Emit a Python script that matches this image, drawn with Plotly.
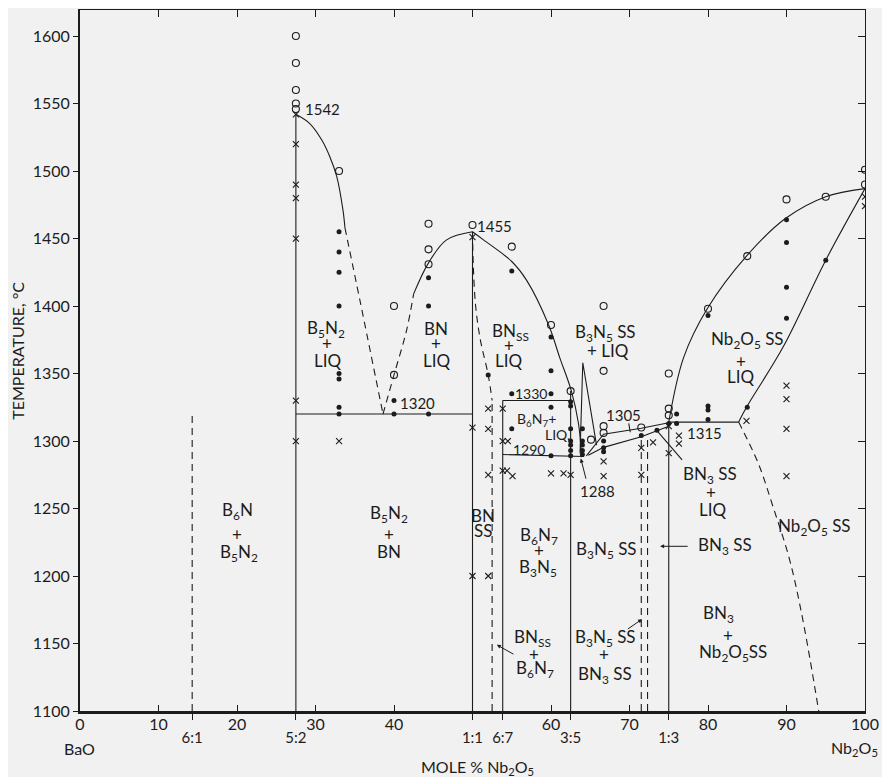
import plotly.graph_objects as go

# ---------------- data (mole % Nb2O5, temperature °C) ----------------
x_tick_vals = [0, 10, 20, 30, 40, 60, 70, 80, 90, 100]
x_tick_text = ["0", "10", "20", "30", "40", "60", "70", "80", "90", "100"]
x_minor_vals = [10, 20, 30, 40, 50, 60, 70, 80, 90]
ratio_pos = [14.29, 27.5, 50.0, 53.85, 62.5, 75.0]
ratio_labels = ["6:1", "5:2", "1:1", "6:7", "3:5", "1:3"]
y_tick_vals = [1100, 1150, 1200, 1250, 1300, 1350, 1400, 1450, 1500, 1550, 1600]

# open circles (completely melted)
liquid_x = [27.5, 27.5, 27.5, 27.5, 27.5, 33.0, 40.0, 40.0, 44.4, 44.4, 44.4, 50.0,
            55.0, 60.0, 62.5, 66.7, 66.7, 66.7, 66.7, 65.1, 71.5, 75.0, 75.0, 75.0,
            80.0, 85.0, 90.0, 95.0, 100.0, 100.0]
liquid_y = [1600, 1580, 1560, 1550, 1546, 1500, 1400, 1349, 1461, 1442, 1431, 1460,
            1444, 1386, 1337, 1400, 1352, 1311, 1306, 1301, 1310, 1350, 1324, 1319,
            1398, 1437, 1479, 1481, 1501, 1490]

# filled dots (partially melted)
partial_x = [33.0, 33.0, 33.0, 33.0, 33.0, 33.0, 33.0, 33.0, 40.0, 40.0, 44.4, 44.4, 44.4,
             52.0, 55.0, 55.0, 55.0, 60.0, 60.0, 60.0, 60.0, 60.0,
             62.5, 62.5, 62.5, 62.5, 62.5, 62.5, 62.5, 64.0, 64.0, 64.0, 64.0, 64.0,
             66.7, 66.7, 66.7, 71.5, 73.5, 75.0, 76.0, 76.0, 80.0, 80.0, 80.0, 80.0,
             85.0, 90.0, 90.0, 90.0, 90.0, 95.0]
partial_y = [1455, 1440, 1425, 1400, 1350, 1346, 1325, 1320, 1330, 1320, 1421, 1400, 1320,
             1349, 1426, 1335, 1309, 1377, 1352, 1335, 1325, 1289,
             1329, 1326, 1309, 1300, 1297, 1293, 1289, 1309, 1300, 1297, 1293, 1290,
             1300, 1295, 1292, 1304, 1308, 1313, 1320, 1313, 1393, 1326, 1323, 1316,
             1325, 1464, 1447, 1414, 1391, 1434]

# crosses (not melted)
solid_x = [27.5, 27.5, 27.5, 27.5, 27.5, 27.5, 27.5, 33.0, 50.0, 50.0, 50.0,
           52.0, 52.0, 52.0, 52.0, 53.85, 53.85, 53.85, 54.5, 54.4, 55.1,
           60.0, 61.6, 62.5, 66.7, 66.7, 71.5, 71.5, 73.0, 75.0, 75.0, 76.3, 76.3,
           84.9, 90.0, 90.0, 90.0, 90.0, 100.0, 100.0]
solid_y = [1542, 1520, 1490, 1480, 1450, 1330, 1300, 1300, 1451, 1310, 1200,
           1324, 1309, 1275, 1200, 1324, 1300, 1278, 1300, 1278, 1274,
           1276, 1276, 1275, 1285, 1274, 1295, 1275, 1299, 1311, 1291, 1304, 1298,
           1315, 1341, 1331, 1309, 1274, 1481, 1474]

# phase boundaries
c61_x, c61_y = [14.29, 14.29], [1100, 1320]
c52_x, c52_y = [27.5, 27.5], [1100, 1542]
liq52_x = [27.5, 29.3, 30.8, 31.8, 32.7, 33.5, 33.75]
liq52_y = [1542, 1535, 1523, 1511, 1496, 1471, 1458]
liq52d_x, liq52d_y = [33.75, 35.7, 38.6], [1458, 1403, 1320]
liq11d_x, liq11d_y = [38.6, 40.0, 41.6, 42.5], [1320, 1349, 1382, 1409]
liq11l_x, liq11l_y = [42.5, 44.4, 46.7, 50.0], [1409, 1432, 1449, 1455]
liq11r_x = [50.0, 51.4, 55.0, 56.9, 59.7, 61.1, 62.6, 63.5, 63.9]
liq11r_y = [1455, 1449, 1433, 1419, 1386, 1362, 1337, 1313, 1288]
eut1320_x, eut1320_y = [27.5, 50.0], [1320, 1320]
c11_x, c11_y = [50.0, 50.0], [1100, 1455]
bnss_x = [50.0, 50.1, 50.4, 51.0, 52.0, 52.5]
bnss_y = [1455, 1430, 1400, 1375, 1349, 1330]
bnssv_x, bnssv_y = [52.5, 52.5], [1100, 1330]
c67_x, c67_y = [53.85, 53.85], [1100, 1330]
h1330_x, h1330_y = [53.85, 62.5], [1330, 1330]
c35_x, c35_y = [62.5, 62.5], [1100, 1337]
h1290_x, h1290_y = [53.85, 64.2], [1290, 1288.5]
spike_x, spike_y = [63.7, 64.05, 65.8], [1291, 1358, 1297]
b35liq_x, b35liq_y = [64.5, 66.7, 71.5, 75.0], [1289, 1305, 1309.5, 1313.5]
b35sol_x = [64.75, 66.7, 71.5, 73.5, 75.0]
b35sol_y = [1289.5, 1295.3, 1303.2, 1307.6, 1311]
d715_x, d715_y = [71.5, 71.5], [1100, 1303]
d723_x, d723_y = [72.3, 72.3], [1100, 1305]
c13_x, c13_y = [75.0, 75.0], [1100, 1314]
h1315_x, h1315_y = [75.0, 83.9], [1314, 1314]
nbliq_x = [75.0, 76.9, 79.9, 84.9, 89.9, 95.0, 100.0]
nbliq_y = [1314, 1362, 1398, 1437, 1465, 1481, 1487]
nbsol_x = [83.9, 84.9, 89.6, 95.0, 100.0]
nbsol_y = [1314, 1325, 1370, 1434, 1487]
nbsolv_x = [83.9, 86.4, 88.3, 90.4, 92.1, 94.1]
nbsolv_y = [1314, 1283.5, 1251, 1212, 1167, 1100]

# leader lines without heads
lead1305_x, lead1305_y = [69.9, 70.1], [1313, 1306.5]
leadbn3_x, leadbn3_y = [73.3, 76.7], [1309, 1286]

# arrows: tail -> head
arrow_tail_x = [64.5, 77.6, 69.6, 55.4]
arrow_tail_y = [1271, 1222, 1160, 1141.5]
arrow_head_x = [63.8, 73.9, 71.6, 53.1]
arrow_head_y = [1287, 1222, 1168, 1149]

# text labels
label_text = ["1542", "1455", "1320", "1330", "1290", "1288", "1305", "1315",
              "B<sub>6</sub>N<sub>7</sub>+", "LIQ.",
              "B<sub>5</sub>N<sub>2</sub>", "+", "LIQ",
              "BN", "+", "LIQ",
              "BN<sub>SS</sub>", "+", "LIQ",
              "B<sub>3</sub>N<sub>5</sub> SS", "+ LIQ",
              "Nb<sub>2</sub>O<sub>5</sub> SS", "+", "LIQ",
              "B<sub>6</sub>N", "+", "B<sub>5</sub>N<sub>2</sub>",
              "B<sub>5</sub>N<sub>2</sub>", "+", "BN",
              "BN", "SS",
              "B<sub>6</sub>N<sub>7</sub>", "+", "B<sub>3</sub>N<sub>5</sub>",
              "B<sub>3</sub>N<sub>5</sub> SS",
              "BN<sub>3</sub> SS",
              "Nb<sub>2</sub>O<sub>5</sub> SS",
              "BN<sub>3</sub> SS", "+", "LIQ",
              "BN<sub>3</sub>", "+", "Nb<sub>2</sub>O<sub>5</sub>SS",
              "BN<sub>SS</sub>", "+", "B<sub>6</sub>N<sub>7</sub>",
              "B<sub>3</sub>N<sub>5</sub> SS", "+", "BN<sub>3</sub> SS"]
label_x = [30.9, 52.8, 43.0, 57.5, 57.2, 65.9, 69.2, 79.6,
           58.2, 60.8,
           31.4, 31.5, 31.5,
           45.4, 45.4, 45.4,
           54.8, 54.6, 54.6,
           67.0, 67.3,
           85.0, 84.2, 84.1,
           20.0, 20.0, 20.2,
           39.3, 39.3, 39.3,
           51.3, 51.4,
           58.5, 58.5, 58.4,
           67.1,
           82.2,
           93.6,
           80.3, 80.4, 80.6,
           81.3, 82.6, 83.2,
           57.7, 57.8, 58.0,
           67.0, 66.8, 66.9]
label_y = [1546, 1459, 1328, 1335.5, 1294, 1263, 1319, 1306,
           1315.6, 1305,
           1383, 1372, 1360,
           1383, 1372, 1360,
           1381, 1371, 1359.5,
           1380, 1367,
           1375, 1359, 1347.6,
           1248, 1230.4, 1217,
           1246, 1230.4, 1218.5,
           1245, 1234,
           1230, 1218.7, 1205.7,
           1219,
           1222,
           1236.5,
           1275, 1262, 1249.4,
           1172, 1155.6, 1142.7,
           1154, 1141.5, 1131,
           1154, 1141.5, 1126.7]
label_size = [15, 15, 15, 14, 14, 15, 15, 15,
              14, 14] + [17] * 40

# ---------------- figure ----------------
INK = "#1c1c1c"
BG = "#f1f1f1"
FONT = "Lato, 'DejaVu Sans', sans-serif"

fig = go.Figure()

solid_curves = [(c52_x, c52_y, False), (liq52_x, liq52_y, True), (liq11l_x, liq11l_y, True),
                (liq11r_x, liq11r_y, True), (eut1320_x, eut1320_y, False), (c11_x, c11_y, False),
                (c67_x, c67_y, False), (h1330_x, h1330_y, False), (c35_x, c35_y, False),
                (h1290_x, h1290_y, False), (spike_x, spike_y, False), (b35liq_x, b35liq_y, False),
                (b35sol_x, b35sol_y, False), (c13_x, c13_y, False), (h1315_x, h1315_y, False),
                (nbliq_x, nbliq_y, True), (nbsol_x, nbsol_y, True),
                (lead1305_x, lead1305_y, False), (leadbn3_x, leadbn3_y, False)]
dashed_curves = [(c61_x, c61_y, False), (liq52d_x, liq52d_y, True), (liq11d_x, liq11d_y, True),
                 (bnss_x, bnss_y, True), (bnssv_x, bnssv_y, False), (d715_x, d715_y, False),
                 (d723_x, d723_y, False), (nbsolv_x, nbsolv_y, True)]

for xs, ys, smooth in solid_curves:
    fig.add_trace(go.Scatter(x=xs, y=ys, mode="lines", hoverinfo="skip", showlegend=False,
                             line=dict(color=INK, width=1.1,
                                       shape="spline" if smooth else "linear")))
for xs, ys, smooth in dashed_curves:
    fig.add_trace(go.Scatter(x=xs, y=ys, mode="lines", hoverinfo="skip", showlegend=False,
                             line=dict(color=INK, width=1.1, dash="7px,5px",
                                       shape="spline" if smooth else "linear")))

fig.add_trace(go.Scatter(x=liquid_x, y=liquid_y, mode="markers", showlegend=False,
                         marker=dict(symbol="circle-open", size=7, color=INK,
                                     line=dict(width=1.1, color=INK))))
fig.add_trace(go.Scatter(x=partial_x, y=partial_y, mode="markers", showlegend=False,
                         marker=dict(symbol="circle", size=5, color=INK)))
fig.add_trace(go.Scatter(x=solid_x, y=solid_y, mode="markers", showlegend=False,
                         marker=dict(symbol="x-thin-open", size=6, color=INK,
                                     line=dict(width=1.1, color=INK))))

# empty traces so that the auxiliary axes are drawn
fig.add_trace(go.Scatter(x=[], y=[], xaxis="x2", yaxis="y2", showlegend=False))
fig.add_trace(go.Scatter(x=[], y=[], xaxis="x3", yaxis="y", showlegend=False))

annotations = []
for t, x, y, s in zip(label_text, label_x, label_y, label_size):
    annotations.append(dict(text=t, x=x, y=y, xref="x", yref="y", showarrow=False,
                            font=dict(family=FONT, size=s, color=INK),
                            xanchor="center", yanchor="middle"))
for tx, ty, hx, hy in zip(arrow_tail_x, arrow_tail_y, arrow_head_x, arrow_head_y):
    annotations.append(dict(text="", x=hx, y=hy, ax=tx, ay=ty, xref="x", yref="y",
                            axref="x", ayref="y", showarrow=True, arrowhead=2,
                            arrowsize=0.8, arrowwidth=1, arrowcolor=INK))

annotations += [
    dict(text="TEMPERATURE, °C", x=-0.079, y=0.514, xref="paper", yref="paper",
         textangle=-90, showarrow=False, xanchor="center", yanchor="middle",
         font=dict(family=FONT, size=16, color=INK)),
    dict(text="MOLE % Nb<sub>2</sub>O<sub>5</sub>", x=0.506, y=-0.081, xref="paper",
         yref="paper", showarrow=False, xanchor="center", yanchor="middle",
         font=dict(family=FONT, size=16, color=INK)),
    dict(text="BaO", x=-0.001, y=-0.053, xref="paper", yref="paper", showarrow=False,
         xanchor="center", yanchor="middle", font=dict(family=FONT, size=16, color=INK)),
    dict(text="Nb<sub>2</sub>O<sub>5</sub>", x=0.987, y=-0.053, xref="paper", yref="paper",
         showarrow=False, xanchor="center", yanchor="middle",
         font=dict(family=FONT, size=16, color=INK)),
]

tickfont = dict(family=FONT, size=16, color=INK)
# The page body has an 8px margin; size/margins are chosen so the plot area
# lands at x 80..865, y 10..711 in the 890x777 window.
fig.update_layout(
    width=882, height=769,
    margin=dict(l=72, r=25, t=2, b=66),
    paper_bgcolor=BG, plot_bgcolor=BG,
    showlegend=False,
    annotations=annotations,
    xaxis=dict(range=[0, 100], tickmode="array", tickvals=x_tick_vals, ticktext=x_tick_text,
               ticks="inside", ticklen=6, tickcolor=INK, tickwidth=1,
               showline=True, linewidth=2.5, linecolor=INK, showgrid=False, zeroline=False,
               tickfont=tickfont, automargin=False, ticklabelstandoff=-3),
    xaxis2=dict(range=[0, 100], overlaying="x", side="top", anchor="y", tickmode="array",
                tickvals=x_minor_vals, ticks="inside", ticklen=7, tickcolor=INK,
                showticklabels=False, showline=True, linewidth=1, linecolor=INK,
                showgrid=False, zeroline=False),
    xaxis3=dict(range=[0, 100], overlaying="x", side="bottom", anchor="y", tickmode="array",
                tickvals=ratio_pos, ticktext=ratio_labels, ticks="outside", ticklen=8,
                tickcolor=INK, showline=False, showgrid=False, zeroline=False,
                ticklabelstandoff=5, automargin=False,
                tickfont=dict(family=FONT, size=15, color=INK)),
    yaxis=dict(range=[1100, 1619.3], tickmode="array", tickvals=y_tick_vals,
               ticks="outside", ticklen=5, tickcolor=INK, showline=True, linewidth=2,
               linecolor=INK, showgrid=False, zeroline=False, tickfont=tickfont,
               automargin=False),
    yaxis2=dict(range=[1100, 1619.3], overlaying="y", side="right", anchor="x",
                tickmode="array", tickvals=y_tick_vals, ticks="inside", ticklen=7,
                tickcolor=INK, showticklabels=False, showline=True, linewidth=1,
                linecolor=INK, showgrid=False, zeroline=False),
)

fig.write_html("out.html")
